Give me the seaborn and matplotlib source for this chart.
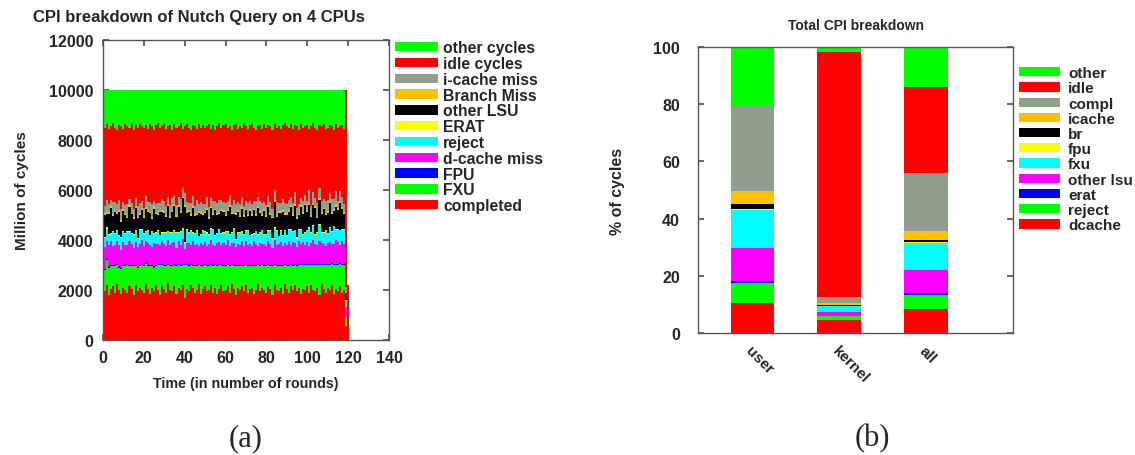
import numpy as np
import matplotlib
matplotlib.use("Agg")
import matplotlib.pyplot as plt
from matplotlib.patches import Patch
import seaborn as sns

# ---- (a) per-round breakdown, million cycles, rounds 0..120 ----
rounds = list(range(121))
round_total = [10000] * 120 + [2200]

completed = [2100, 1950, 2200, 1800, 2050, 2150, 1900, 2250, 2000, 1850,
             2100, 2000, 1900, 2150, 2050, 1800, 2200, 1950, 2100, 2000,
             1900, 2250, 2050, 1850, 2100, 1950, 2200, 2000, 1800, 2150,
             2050, 1900, 2300, 2000, 1950, 2150, 1850, 2100, 2000, 2200,
             1700, 2050, 1950, 2200, 2100, 1900, 2000, 2250, 1850, 2050,
             2150, 1950, 2000, 2200, 1900, 2100, 1850, 2050, 2200, 1950,
             2000, 2150, 1900, 2250, 2050, 1800, 2100, 2000, 2150, 1950,
             2200, 1900, 2050, 2100, 1850, 2000, 2250, 1950, 2100, 2000,
             1900, 2150, 2050, 1800, 2200, 2000, 1950, 2100, 1850, 2250,
             2050, 1900, 2150, 2000, 2200, 1950, 2100, 1850, 2050, 2000,
             2150, 1900, 2200, 2000, 1950, 2100, 1800, 2250, 2050, 1900,
             2100, 2000, 2200, 1850, 2050, 1950, 2150, 1900, 2000, 560, 2200]
fxu = [950, 850, 1000, 1100, 900, 800, 1050, 750, 900, 1000,
       850, 950, 1100, 800, 900, 1150, 750, 950, 850, 1000,
       1050, 800, 900, 1100, 850, 950, 750, 1000, 1200, 850,
       900, 1050, 700, 950, 1000, 850, 1100, 900, 950, 800,
       1300, 950, 1000, 800, 850, 1050, 950, 750, 1100, 900,
       850, 1000, 950, 800, 1050, 900, 1100, 950, 800, 1000,
       950, 850, 1050, 750, 900, 1150, 850, 950, 800, 1000,
       800, 1050, 900, 850, 1100, 950, 750, 1000, 900, 950,
       1050, 850, 900, 1150, 800, 950, 1000, 850, 1100, 750,
       900, 1050, 850, 950, 800, 1000, 900, 1150, 950, 1000,
       850, 1100, 800, 1000, 1050, 900, 1200, 750, 950, 1100,
       900, 1000, 850, 1150, 950, 1050, 900, 1100, 1000, 350, 0]
fpu = [50, 40, 60, 50, 45, 55, 40, 60, 50, 45,
       55, 50, 40, 60, 45, 50, 55, 40, 60, 50,
       45, 55, 50, 40, 60, 50, 45, 55, 40, 60,
       50, 45, 55, 50, 40, 60, 45, 50, 55, 40,
       60, 50, 45, 55, 50, 40, 60, 45, 50, 55,
       40, 60, 50, 45, 55, 50, 40, 60, 45, 50,
       55, 40, 60, 50, 45, 55, 50, 40, 60, 45,
       50, 55, 40, 60, 50, 45, 55, 50, 40, 60,
       45, 50, 55, 40, 60, 50, 45, 55, 50, 40,
       60, 45, 50, 55, 40, 60, 50, 45, 55, 50,
       40, 60, 45, 50, 55, 40, 60, 50, 45, 55,
       50, 40, 60, 45, 50, 55, 40, 60, 50, 20, 0]
dcache = [800, 900, 700, 850, 950, 750, 800, 900, 850, 700,
          900, 800, 750, 950, 850, 700, 900, 800, 850, 950,
          750, 850, 900, 800, 700, 950, 850, 800, 750, 900,
          850, 750, 950, 800, 900, 850, 700, 900, 800, 1000,
          600, 850, 900, 750, 950, 800, 850, 700, 900, 800,
          900, 750, 850, 950, 800, 700, 900, 850, 750, 900,
          800, 950, 750, 850, 900, 700, 850, 800, 950, 750,
          900, 800, 850, 750, 950, 850, 700, 900, 800, 850,
          750, 900, 850, 700, 950, 800, 850, 900, 750, 850,
          800, 950, 750, 900, 850, 700, 900, 800, 850, 750,
          900, 700, 850, 950, 800, 750, 900, 850, 800, 700,
          850, 900, 750, 800, 950, 850, 700, 900, 800, 400, 0]
reject = [450, 350, 500, 400, 300, 550, 450, 400, 350, 500,
          400, 450, 550, 350, 400, 500, 450, 300, 550, 400,
          500, 350, 450, 400, 600, 350, 450, 500, 400, 300,
          450, 550, 300, 500, 400, 450, 600, 350, 500, 400,
          200, 500, 400, 550, 350, 450, 500, 400, 300, 550,
          400, 500, 350, 450, 600, 400, 350, 500, 450, 400,
          500, 350, 450, 400, 550, 300, 450, 500, 350, 450,
          400, 550, 350, 450, 300, 500, 450, 400, 550, 350,
          450, 400, 500, 350, 450, 550, 300, 450, 400, 500,
          350, 450, 600, 400, 500, 350, 450, 550, 300, 500,
          450, 700, 400, 550, 350, 500, 650, 400, 450, 600,
          350, 550, 450, 700, 400, 500, 600, 450, 550, 250, 0]
erat = [40, 30, 50, 40, 35, 45, 30, 50, 40, 35,
        45, 40, 30, 50, 35, 40, 45, 30, 50, 40,
        35, 45, 40, 30, 50, 40, 35, 45, 30, 50,
        40, 35, 45, 40, 30, 50, 35, 40, 45, 30,
        50, 40, 35, 45, 40, 30, 50, 35, 40, 45,
        30, 50, 40, 35, 45, 40, 30, 50, 35, 40,
        45, 30, 50, 40, 35, 45, 40, 30, 50, 35,
        40, 45, 30, 50, 40, 35, 45, 40, 30, 50,
        35, 40, 45, 30, 50, 40, 35, 45, 40, 30,
        50, 35, 40, 45, 30, 50, 40, 35, 45, 40,
        30, 50, 35, 40, 45, 30, 50, 40, 35, 45,
        40, 30, 50, 35, 40, 45, 30, 50, 40, 10, 0]
other_lsu = [700, 900, 550, 800, 1000, 600, 850, 650, 950, 600,
             800, 700, 500, 950, 750, 600, 900, 800, 550, 750,
             600, 900, 750, 850, 500, 950, 700, 600, 900, 800,
             750, 600, 1000, 550, 800, 950, 600, 1000, 750, 1200,
             1400, 650, 800, 550, 950, 700, 600, 900, 800, 600,
             700, 900, 600, 800, 550, 1000, 750, 600, 900, 800,
             600, 800, 1050, 700, 550, 950, 800, 600, 900, 700,
             800, 550, 950, 700, 900, 600, 1050, 750, 550, 900,
             700, 950, 600, 800, 1000, 550, 900, 700, 950, 600,
             800, 700, 900, 600, 950, 750, 550, 900, 800, 1050,
             700, 900, 600, 800, 1050, 550, 950, 700, 900, 600,
             800, 950, 700, 600, 900, 750, 1050, 800, 600, 300, 0]
branch = [70, 60, 80, 70, 65, 75, 60, 80, 70, 65,
          75, 70, 60, 80, 65, 70, 75, 60, 80, 70,
          65, 75, 70, 60, 80, 70, 65, 75, 60, 80,
          70, 65, 75, 70, 60, 80, 65, 70, 75, 60,
          80, 70, 65, 75, 70, 60, 80, 65, 70, 75,
          60, 80, 70, 65, 75, 70, 60, 80, 65, 70,
          75, 60, 80, 70, 65, 75, 70, 60, 80, 65,
          70, 75, 60, 80, 70, 65, 75, 70, 60, 80,
          65, 70, 75, 60, 80, 70, 65, 75, 70, 60,
          80, 65, 70, 75, 60, 80, 70, 65, 75, 70,
          60, 80, 65, 70, 75, 60, 80, 70, 65, 75,
          70, 60, 80, 65, 70, 75, 60, 80, 70, 20, 0]
icache = [400, 300, 450, 350, 250, 500, 350, 300, 400, 450,
          300, 350, 500, 250, 400, 350, 300, 450, 400, 300,
          350, 450, 300, 400, 500, 250, 350, 400, 300, 450,
          400, 350, 300, 450, 500, 350, 400, 300, 450, 350,
          500, 350, 300, 450, 400, 350, 500, 300, 400, 350,
          300, 450, 400, 350, 500, 300, 400, 450, 350, 300,
          450, 350, 400, 300, 500, 350, 300, 450, 400, 350,
          300, 450, 350, 400, 300, 500, 350, 400, 450, 300,
          400, 350, 450, 300, 400, 500, 350, 300, 450, 400,
          350, 400, 300, 450, 500, 350, 400, 300, 450, 350,
          400, 500, 350, 450, 300, 550, 400, 450, 350, 500,
          450, 350, 500, 400, 550, 300, 450, 400, 350, 200, 0]
other_cycles = [1400, 1500, 1350, 1550, 1450, 1300, 1500, 1600, 1400, 1450,
                1550, 1350, 1450, 1500, 1300, 1600, 1400, 1500, 1350, 1450,
                1500, 1400, 1550, 1350, 1450, 1600, 1400, 1300, 1500, 1450,
                1350, 1550, 1450, 1400, 1600, 1350, 1500, 1450, 1300, 1550,
                1450, 1350, 1500, 1600, 1400, 1450, 1550, 1350, 1500, 1400,
                1500, 1450, 1350, 1550, 1400, 1600, 1450, 1300, 1500, 1400,
                1350, 1500, 1450, 1600, 1400, 1350, 1550, 1450, 1500, 1300,
                1450, 1550, 1400, 1350, 1500, 1600, 1450, 1400, 1550, 1350,
                1500, 1400, 1450, 1600, 1350, 1500, 1450, 1550, 1400, 1300,
                1450, 1500, 1350, 1550, 1400, 1450, 1600, 1350, 1500, 1450,
                1400, 1550, 1450, 1300, 1500, 1600, 1400, 1450, 1350, 1550,
                1500, 1400, 1450, 1600, 1350, 1500, 1450, 1400, 1550, 0, 0]

labels_a = ["completed", "FXU", "FPU", "d-cache miss", "reject", "ERAT",
            "other LSU", "Branch Miss", "i-cache miss", "idle cycles", "other cycles"]

# ---- (b) total CPI breakdown, % of cycles ----
cats_b = ["user", "kernel", "all"]
b_dcache = [10.4, 4.6, 8.4]
b_reject = [7.0, 1.3, 4.9]
b_erat = [0.9, 0.2, 0.7]
b_other_lsu = [11.5, 1.3, 8.1]
b_fxu = [13.4, 2.0, 9.4]
b_fpu = [0.3, 0.2, 0.3]
b_br = [1.5, 0.2, 0.9]
b_icache = [4.6, 0.8, 3.1]
b_compl = [29.7, 1.9, 20.0]
b_idle = [0.0, 85.7, 30.1]
b_other = [20.7, 1.8, 14.1]
labels_b = ["dcache", "reject", "erat", "other lsu", "fxu", "fpu", "br",
            "icache", "compl", "idle", "other"]

colors = ["#ff0000", "#00ff00", "#0000ff", "#ff00ff", "#00ffff", "#ffff00",
          "#000000", "#ffc000", "#8f9f8c", "#ff0000", "#00ff00"]

sns.set_theme(style="ticks")
plt.rcParams["font.family"] = ["Liberation Sans", "DejaVu Sans"]
plt.rcParams["font.weight"] = "bold"
plt.rcParams["axes.labelweight"] = "bold"
plt.rcParams["axes.titleweight"] = "bold"

fig = plt.figure(figsize=(11.35, 4.56), dpi=100)
ax1 = fig.add_axes([0.0907, 0.252, 0.252, 0.658])
ax2 = fig.add_axes([0.615, 0.2675, 0.2775, 0.627])

# stack for (a): idle fills up to the round total
layers_a = [completed, fxu, fpu, dcache, reject, erat, other_lsu, branch, icache]
below_idle = np.sum(np.array(layers_a), axis=0)
idle = np.array(round_total) - below_idle - np.array(other_cycles)
idle = np.clip(idle, 0, None)
layers_a = layers_a + [list(idle), other_cycles]
cum_a = np.cumsum(np.array(layers_a, dtype=float), axis=0)

for i in range(len(layers_a) - 1, -1, -1):
    sns.barplot(x=rounds, y=cum_a[i], color=colors[i], native_scale=True,
                width=1.0, errorbar=None, saturation=1, linewidth=0, ax=ax1)

ax1.set_xlim(0, 140)
ax1.set_ylim(0, 12000)
ax1.set_xticks(range(0, 141, 20))
ax1.set_yticks(range(0, 12001, 2000))
ax1.set_xlabel("Time (in number of rounds)", fontsize=10.3, labelpad=8)
ax1.set_ylabel("Million of cycles", fontsize=11, labelpad=14)
ax1.set_title("CPI breakdown of Nutch Query on 4 CPUs", fontsize=12, pad=14,
              x=0.336)

# stack for (b)
layers_b = [b_dcache, b_reject, b_erat, b_other_lsu, b_fxu, b_fpu, b_br,
            b_icache, b_compl, b_idle, b_other]
cum_b = np.cumsum(np.array(layers_b), axis=0)
for i in range(len(layers_b) - 1, -1, -1):
    sns.barplot(x=cats_b, y=cum_b[i], order=cats_b, color=colors[i], width=0.5,
                errorbar=None, saturation=1, linewidth=0, ax=ax2)

ax2.set_xlim(-0.625, 3.0)
ax2.set_ylim(0, 100)
ax2.set_yticks(range(0, 101, 20))
ax2.set_xticks(range(3))
ax2.set_xticklabels(cats_b, rotation=-45, ha="left", va="top",
                    rotation_mode="anchor")
ax2.set_ylabel("% of cycles", fontsize=11.5, labelpad=20)
ax2.set_xlabel("")
ax2.set_title("Total CPI breakdown", fontsize=10, pad=13)

for ax in (ax1, ax2):
    ax.tick_params(direction="in", top=True, right=True, labelsize=11.5,
                   length=4, color="#555555", pad=7)
    for s in ax.spines.values():
        s.set_visible(True)
        s.set_color("#555555")
        s.set_linewidth(1.0)
ax1.tick_params(axis="x", pad=7)
ax2.tick_params(axis="y", pad=13)
ax2.tick_params(axis="x", pad=7, labelsize=11)

# legends, top entry first
handles_a = [Patch(facecolor=colors[i], edgecolor="none") for i in range(10, -1, -1)]
ax1.legend(handles_a, labels_a[::-1], loc="upper left", bbox_to_anchor=(1.0, 1.02),
           frameon=False, fontsize=11.3, handlelength=2.7, handleheight=0.55,
           labelspacing=0.05, handletextpad=0.35, borderaxespad=0)
handles_b = [Patch(facecolor=colors[i], edgecolor="none") for i in range(10, -1, -1)]
ax2.legend(handles_b, labels_b[::-1], loc="upper left", bbox_to_anchor=(1.0, 0.955),
           frameon=False, fontsize=11, handlelength=2.7, handleheight=0.55,
           labelspacing=0.08, handletextpad=0.5, borderaxespad=0)

fig.text(0.216, 0.022, "(a)", fontsize=22, fontweight="normal",
         family=["Liberation Serif", "DejaVu Serif"], ha="center")
fig.text(0.769, 0.022, "(b)", fontsize=22, fontweight="normal",
         family=["Liberation Serif", "DejaVu Serif"], ha="center")

fig.savefig("out.png", dpi=100)
